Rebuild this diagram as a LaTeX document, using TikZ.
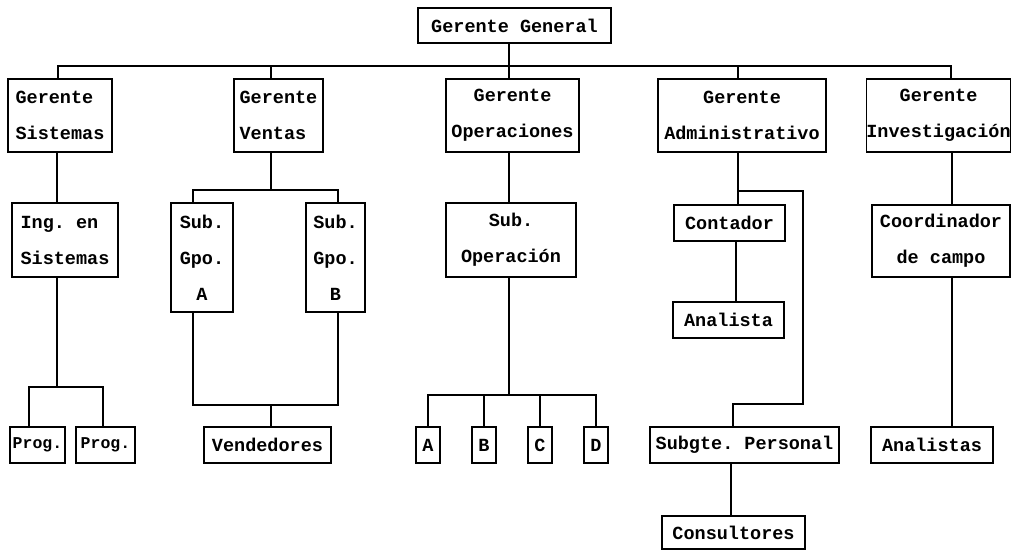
\documentclass[tikz,border=0pt]{standalone}
\usepackage{fontspec}
\setmonofont{Liberation Mono}
\usetikzlibrary{positioning}
\tikzset{
	caja/.style={draw, line width=1.4pt, inner sep=0pt, align=center, font=\ttfamily\bfseries\fontsize{18.5}{36}\selectfont},
	tam/.style 2 args={minimum width=#1pt, minimum height=#2pt},
	linea/.style={line width=1.4pt}
}

\begin{document}
\begin{tikzpicture}[x=1pt, y=-1pt]
	\useasboundingbox (0,0) rectangle (1011,551);
	
	\node[caja, tam={193}{35}] (gg) at (514.5,25.5){Gerente General};
	
	\node[caja, tam={104}{73}, align=left] (gs) at (60,115.5){Gerente\\Sistemas};
	\node[caja, tam={89}{73}, align=left] (gv) at (278.5,115.5){Gerente\\Ventas};
	\node[caja, tam={133}{73}] (go) at (512.5,115.5){Gerente\\Operaciones};
	\node[caja, tam={168}{73}] (ga) at (742,115.5){Gerente\\Administrativo};
	\node[caja, tam={143}{73}] (gi) at (938.5,115.5){Gerente\\Investigación};
	
	\node[caja, tam={106}{74}, align=left] (is) at (65,240){Ing. en\\Sistemas};
	\node[caja, tam={62}{109}] (sa) at (202,257.5){Sub.\\Gpo.\\A};
	\node[caja, tam={59}{109}] (sb) at (335.5,257.5){Sub.\\Gpo.\\B};
	\node[caja, tam={130}{74}] (so) at (511,240){Sub.\\Operación};
	\node[caja, tam={111}{36}] (co) at (729.5,223){Contador};
	\node[caja, tam={111}{36}] (an) at (728.5,320){Analista};
	\node[caja, tam={138}{72}] (cc) at (941,241){Coordinador\\de campo};
	
	\node[caja, tam={55}{36}, font=\ttfamily\bfseries\fontsize{16.5}{18}\selectfont] (p1) at (37.5,445){Prog.};
	\node[caja, tam={59}{36}, font=\ttfamily\bfseries\fontsize{16.5}{18}\selectfont] (p2) at (105.5,445){Prog.};
	\node[caja, tam={127}{36}] (ve) at (267.5,445){Vendedores};
	\node[caja, tam={24}{36}] (oa) at (428,445){A};
	\node[caja, tam={24}{36}] (ob) at (484,445){B};
	\node[caja, tam={24}{36}] (oc) at (540,445){C};
	\node[caja, tam={24}{36}] (od) at (596,445){D};
	\node[caja, tam={189}{36}] (sp) at (744.5,445){Subgte. Personal};
	\node[caja, tam={122}{36}] (as) at (932,445){Analistas};
	\node[caja, tam={143}{33}] (cons) at (733.5,532.5){Consultores};
	
	% linea principal
	\coordinate (b1) at (58,66);
	\coordinate (b2) at (271,66);
	\coordinate (bus) at (509,66);
	\coordinate (b4) at (738,66);
	\coordinate (b5) at (951,66);
	\draw[linea] (b1 |- gs.north) -- (b1) -- (b5) -- (b5 |- gi.north);
	\draw[linea] (bus |- gg.south) -- (bus |- go.north);
	\foreach \b/\n in {b2/gv, b4/ga}
		\draw[linea] (\b) -- (\b |- \n.north);
	
	% sistemas
	\coordinate (sx) at (57,387);
	\coordinate (p1x) at (29,387);
	\coordinate (p2x) at (103,387);
	\draw[linea] (sx |- gs.south) -- (sx |- is.north);
	\draw[linea] (sx |- is.south) -- (sx);
	\draw[linea] (p1x |- p1.north) -- (p1x) -- (p2x) -- (p2x |- p2.north);
	
	% ventas
	\coordinate (vt) at (271,190);
	\coordinate (va) at (193,190);
	\coordinate (vB) at (338,190);
	\coordinate (vb) at (271,405);
	\draw[linea] (vt |- gv.south) -- (vt);
	\draw[linea] (va |- sa.north) -- (va) -- (vB) -- (vB |- sb.north);
	\draw[linea] (va |- sa.south) -- (va |- vb) -- (vB |- vb) -- (vB |- sb.south);
	\draw[linea] (vb) -- (vb |- ve.north);
	
	% operaciones
	\coordinate (ot) at (509,395);
	\draw[linea] (ot |- go.south) -- (ot |- so.north);
	\draw[linea] (ot |- so.south) -- (ot);
	\draw[linea] (oa.north) |- (ot) -| (od.north);
	\foreach \n in {ob, oc}
		\draw[linea] (\n.north) -- (\n.north |- ot);
	
	% administrativo
	\coordinate (at) at (738,191);
	\coordinate (ar) at (803,404);
	\coordinate (ap) at (733,404);
	\coordinate (ac) at (736,270);
	\coordinate (cs) at (731,490);
	\draw[linea] (at |- ga.south) -- (at |- co.north);
	\draw[linea] (at) -| (ar) -- (ap) -- (ap |- sp.north);
	\draw[linea] (ac |- co.south) -- (ac |- an.north);
	\draw[linea] (cs |- sp.south) -- (cs |- cons.north);
	
	% investigacion
	\coordinate (it) at (952,300);
	\draw[linea] (it |- gi.south) -- (it |- cc.north);
	\draw[linea] (it |- cc.south) -- (it |- as.north);
\end{tikzpicture}
\end{document}
